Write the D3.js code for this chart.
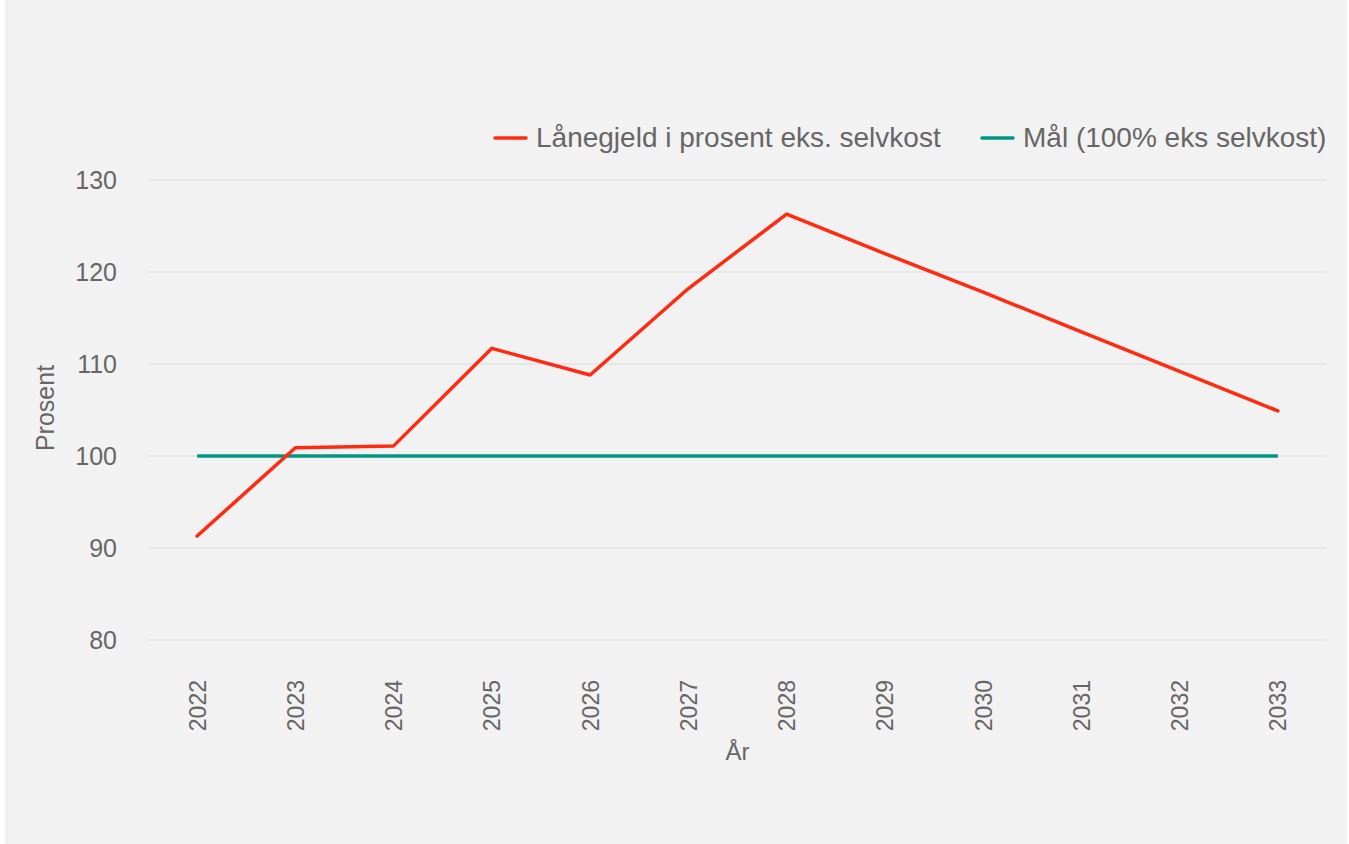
<!DOCTYPE html>
<html>
<head>
<meta charset="utf-8">
<script src="https://cdn.jsdelivr.net/npm/d3@7"></script>
<style>
  html, body { margin: 0; padding: 0; background: #ffffff; }
  svg { display: block; font-family: "Liberation Sans", Arial, sans-serif; }
</style>
</head>
<body>
<svg id="chart" width="1349" height="844"></svg>
<script>
// Years on the x axis
const years = ["2022","2023","2024","2025","2026","2027","2028","2029","2030","2031","2032","2033"];
// Loan debt as percent of operating revenue, excluding self-financed services
const loanDebt = [91.3, 100.9, 101.1, 111.7, 108.8, 118.2, 126.3, 122.0, 117.8, 113.5, 109.2, 104.9];
// Target level
const target = [100, 100, 100, 100, 100, 100, 100, 100, 100, 100, 100, 100];
const yTicks = [80, 90, 100, 110, 120, 130];
const seriesNames = ["Lånegjeld i prosent eks. selvkost", "Mål (100% eks selvkost)"];
const seriesColors = ["#ff2a0f", "#009683"];

const svg = d3.select("#chart");
const W = 1349, H = 844;
const textColor = "#666666";

// panel background
svg.append("rect").attr("x", 5).attr("y", 0).attr("width", 1342).attr("height", H).attr("fill", "#f2f2f2");

const plot = { left: 148, right: 1327, top: 180, bottom: 640 };

const x = d3.scalePoint().domain(years).range([plot.left, plot.right]).padding(0.5);
const y = d3.scaleLinear().domain([80, 130]).range([plot.bottom, plot.top]);

// gridlines
svg.append("g").selectAll("line").data(yTicks).join("line")
  .attr("x1", plot.left).attr("x2", plot.right)
  .attr("y1", d => y(d)).attr("y2", d => y(d))
  .attr("stroke", "#e3e3e3").attr("stroke-width", 1.3);

// y axis labels
const yAxis = d3.axisLeft(y).tickValues(yTicks).tickSize(0).tickPadding(0);
const gy = svg.append("g").attr("transform", `translate(117,0)`).call(yAxis);
gy.select(".domain").remove();
gy.selectAll("text").attr("fill", textColor).attr("font-size", 25)
  .attr("font-family", "Liberation Sans, Arial, sans-serif");

// x axis labels (rotated, reading upward)
const xAxis = d3.axisBottom(x).tickSize(0).tickPadding(0);
const gx = svg.append("g").attr("transform", `translate(0,${plot.bottom})`).call(xAxis);
gx.select(".domain").remove();
gx.selectAll("text")
  .attr("fill", textColor).attr("font-size", 23)
  .attr("font-family", "Liberation Sans, Arial, sans-serif")
  .attr("text-anchor", "end")
  .attr("dy", "0.35em")
  .attr("transform", "translate(0,40) rotate(-90)")
  .attr("x", 0).attr("y", 0);

// axis titles
svg.append("text").attr("x", (plot.left + plot.right) / 2).attr("y", 760)
  .attr("text-anchor", "middle").attr("fill", textColor).attr("font-size", 24).text("År");
svg.append("text").attr("transform", `translate(54,${(plot.top + plot.bottom) / 2 - 2}) rotate(-90)`)
  .attr("text-anchor", "middle").attr("fill", textColor).attr("font-size", 25).text("Prosent");

// lines
const line = d3.line().x((d, i) => x(years[i])).y(d => y(d));
svg.append("path").datum(target).attr("d", line)
  .attr("fill", "none").attr("stroke", seriesColors[1]).attr("stroke-width", 3.5);
svg.append("path").datum(loanDebt).attr("d", line)
  .attr("fill", "none").attr("stroke", seriesColors[0]).attr("stroke-width", 3.5)
  .attr("stroke-linejoin", "round").attr("stroke-linecap", "round");

// legend
const legendItems = [
  { name: seriesNames[0], color: seriesColors[0], x: 495 },
  { name: seriesNames[1], color: seriesColors[1], x: 982 }
];
const lg = svg.append("g");
legendItems.forEach(it => {
  lg.append("line").attr("x1", it.x).attr("x2", it.x + 31).attr("y1", 138).attr("y2", 138)
    .attr("stroke", it.color).attr("stroke-width", 3.5).attr("stroke-linecap", "round");
  lg.append("text").attr("x", it.x + 41).attr("y", 147).attr("fill", textColor)
    .attr("font-size", 28).text(it.name);
});
</script>
</body>
</html>
